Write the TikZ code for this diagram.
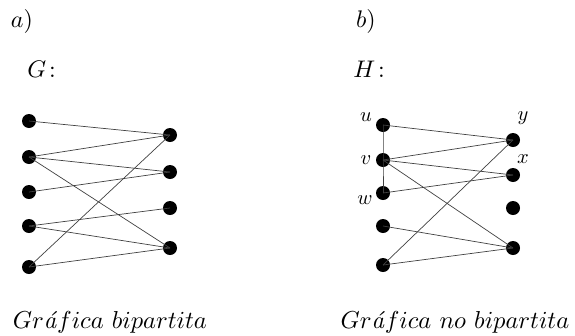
\documentclass[tikz,border=0pt]{standalone}
\tikzset{
  dot/.style={circle,fill=black,inner sep=0pt,minimum size=14pt},
  edge/.style={draw=black!75,line width=0.7pt},
  captxt/.style={inner sep=0pt,scale=2.45},
  ttl/.style={inner sep=0pt,scale=2.4},
  lbl/.style={inner sep=0pt,scale=2.05},
}
\begin{document}
\begin{tikzpicture}[x=1pt,y=-1pt]
\useasboundingbox (0,0) rectangle (575,335);
% titles
\node[ttl] (ta) at (22,21) {$a)$};
\node[ttl,anchor=base west] (tG) at (27,77) {$G\!:$};
\node[ttl] (tb) at (366,21) {$b)$};
\node[ttl,anchor=base west] (tH) at (353,77) {$H\!:$};
\node[captxt,anchor=base] (cG) at (110,328) {$Gr$\textit{á}$fica\ bipartita$};
\node[captxt,anchor=base] (cH) at (455,328) {$Gr$\textit{á}$fica\ no\ bipartita$};
% graph G
\node[dot] (g1) at (29,121) {};
\node[dot] (g2) at (29,157) {};
\node[dot] (g3) at (29,192) {};
\node[dot] (g4) at (29,226) {};
\node[dot] (g5) at (29,267) {};
\node[dot] (r1) at (170,135) {};
\node[dot] (r2) at (170,172) {};
\node[dot] (r3) at (170,208) {};
\node[dot] (r4) at (170,248) {};
\draw[edge] (g1.center) -- (r1.center);
\draw[edge] (g2.center) -- (r1.center);
\draw[edge] (g2.center) -- (r2.center);
\draw[edge] (g2.center) -- (r4.center);
\draw[edge] (g3.center) -- (r2.center);
\draw[edge] (g4.center) -- (r3.center);
\draw[edge] (g4.center) -- (r4.center);
\draw[edge] (g5.center) -- (r1.center);
\draw[edge] (g5.center) -- (r4.center);
% graph H
\node[dot] (u) at (383,125) {};
\node[dot] (v) at (383,160) {};
\node[dot] (w) at (383,193) {};
\node[dot] (h4) at (383,226) {};
\node[dot] (h5) at (383,265) {};
\node[dot] (y) at (513,140) {};
\node[dot] (x) at (513,175) {};
\node[dot] (s3) at (513,208) {};
\node[dot] (s4) at (513,248) {};
\node[lbl] (lu) at (366,117) {$u$};
\node[lbl] (lv) at (366,160) {$v$};
\node[lbl] (lw) at (365,200) {$w$};
\node[lbl] (ly) at (523,118) {$y$};
\node[lbl] (lx) at (523,159) {$x$};
\draw[edge] (u.center) -- (v.center) -- (w.center);
\draw[edge] (u.center) -- (y.center);
\draw[edge] (v.center) -- (y.center);
\draw[edge] (v.center) -- (x.center);
\draw[edge] (v.center) -- (s4.center);
\draw[edge] (w.center) -- (x.center);
\draw[edge] (h4.center) -- (s4.center);
\draw[edge] (h5.center) -- (y.center);
\draw[edge] (h5.center) -- (s4.center);
\end{tikzpicture}
\end{document}
